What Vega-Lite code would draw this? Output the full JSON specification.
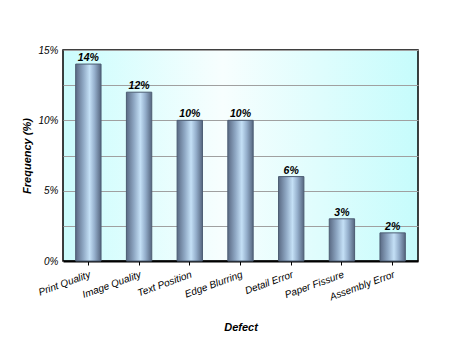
{
  "$schema": "https://vega.github.io/schema/vega-lite/v6.json",
  "autosize": {"type": "none"},
  "padding": {"left": 63, "top": 50, "right": 34, "bottom": 91},
  "width": 355,
  "height": 211,
  "background": "#ffffff",
  "data": {"values": [
    {"Defect": "Print Quality", "Frequency": 0.14},
    {"Defect": "Image Quality", "Frequency": 0.12},
    {"Defect": "Text Position", "Frequency": 0.10},
    {"Defect": "Edge Blurring", "Frequency": 0.10},
    {"Defect": "Detail Error", "Frequency": 0.06},
    {"Defect": "Paper Fissure", "Frequency": 0.03},
    {"Defect": "Assembly Error", "Frequency": 0.02}
  ]},
  "encoding": {
    "x": {"field": "Defect", "type": "nominal", "sort": null,
      "scale": {"paddingInner": 0.5, "paddingOuter": 0.25},
      "axis": {"title": "Defect", "labelAngle": -20, "labelFont": "Liberation Sans", "labelFontStyle": "italic", "labelFontSize": 10, "labelColor": "#000000", "labelPadding": 4,
        "titleFont": "Liberation Sans", "titleFontStyle": "italic", "titleFontWeight": "bold", "titleFontSize": 11, "titleColor": "#000000", "titlePadding": 20,
        "domainColor": "#000000", "domainWidth": 2, "tickColor": "#000000", "tickSize": 4, "grid": false}},
    "y": {"field": "Frequency", "type": "quantitative",
      "scale": {"domain": [0, 0.15], "nice": false},
      "axis": {"title": "Frequency (%)", "values": [0, 0.025, 0.05, 0.075, 0.1, 0.125, 0.15],
        "labelExpr": "round(datum.value * 1000) % 50 == 0 ? format(datum.value, '.0%') : ''",
        "labelFont": "Liberation Sans", "labelFontStyle": "italic", "labelFontSize": 10, "labelColor": "#000000", "labelPadding": 5,
        "titleFont": "Liberation Sans", "titleFontStyle": "italic", "titleFontWeight": "bold", "titleFontSize": 11, "titleColor": "#000000", "titlePadding": 5,
        "domain": false, "ticks": false, "grid": true, "gridColor": "#a0a0a0", "gridWidth": 1, "gridOpacity": 1}}
  },
  "layer": [
    {"mark": {"type": "bar", "stroke": "#4c5c72", "strokeWidth": 1,
      "color": {"gradient": "linear", "x1": 0, "y1": 0, "x2": 1, "y2": 0,
        "stops": [
          {"offset": 0, "color": "#5a6a84"},
          {"offset": 0.3, "color": "#8fa8c4"},
          {"offset": 0.55, "color": "#c4e0f6"},
          {"offset": 0.75, "color": "#94aecb"},
          {"offset": 1, "color": "#56667f"}
        ]}}},
    {"mark": {"type": "text", "dy": -6, "font": "Liberation Sans", "fontStyle": "italic", "fontWeight": "bold", "fontSize": 10.5, "color": "#000000"},
      "encoding": {"text": {"field": "Frequency", "type": "quantitative", "format": ".0%"},
        "y": {"field": "Frequency", "type": "quantitative"}}}
  ],
  "config": {
    "view": {"stroke": "#000000", "strokeWidth": 1.5,
      "fill": {"gradient": "linear", "x1": 0, "y1": 0, "x2": 1, "y2": 0,
        "stops": [
          {"offset": 0, "color": "#cbfdfd"},
          {"offset": 0.45, "color": "#f7fefe"},
          {"offset": 1, "color": "#c6fcfc"}
        ]}}
  }
}
